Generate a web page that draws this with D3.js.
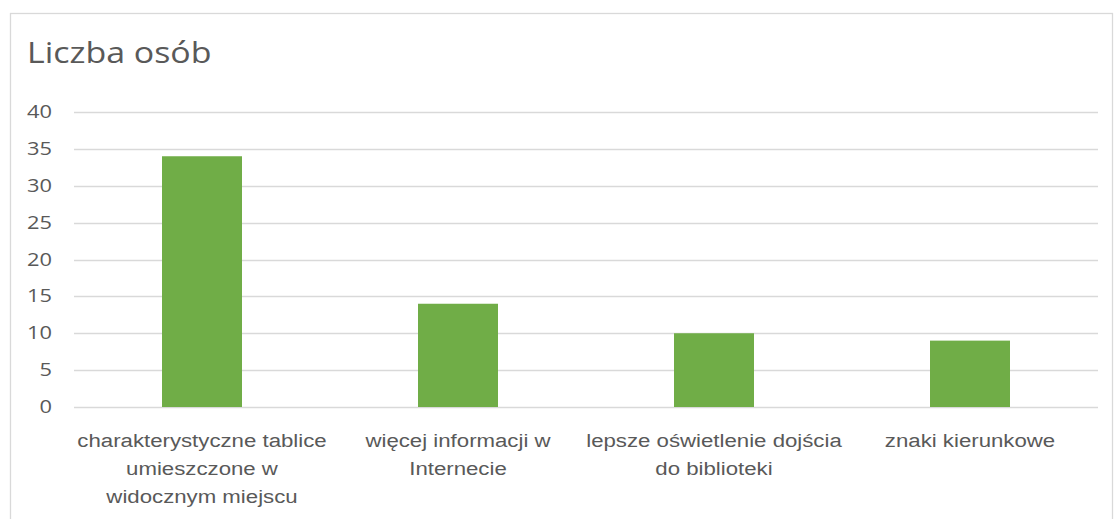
<!DOCTYPE html>
<meta charset="utf-8">
<head>
  <title>Liczba osób</title>
</head>
<style>
  body {
    margin: 0;
    background: #fff;
    font-family: "Open Sans", sans-serif;
  }
  svg {
    display: block;
  }
  .grid line {
    stroke: #d9d9d9;
    stroke-width: 1.3px;
  }
  .tick text {
    fill: #595959;
  }
</style>
<body>
  <svg width="1114" height="519"></svg>

  <script src="https://cdn.jsdelivr.net/npm/d3@7"></script>
  <script>
    // data
    var categories = [
      "charakterystyczne tablice\numieszczone w\nwidocznym miejscu",
      "więcej informacji w\nInternecie",
      "lepsze oświetlenie dojścia\ndo biblioteki",
      "znaki kierunkowe"
    ];
    var values = [34, 14, 10, 9];
    var yTicks = [0, 5, 10, 15, 20, 25, 30, 35, 40];
    var title = "Liczba osób";

    // the original text is a little wider than Open Sans, so stretch it a bit
    var stretch = 1.17;

    var svg = d3.select("svg");

    // outer chart frame
    svg.append("rect")
      .attr("x", 10.5)
      .attr("y", 13.5)
      .attr("width", 1102)
      .attr("height", 520)
      .attr("fill", "none")
      .attr("stroke", "#d9d9d9")
      .attr("stroke-width", 1.3);

    svg.append("text")
      .attr("transform", "translate(27,63) scale(" + stretch + ",1)")
      .attr("fill", "#595959")
      .style("font-size", "29px")
      .text(title);

    var margin = {left: 74, right: 1098, top: 112, bottom: 407};

    var x = d3.scaleBand()
      .domain(categories)
      .range([margin.left, margin.right])
      .paddingInner(0.6875)
      .paddingOuter(0.34375);

    var y = d3.scaleLinear()
      .domain([0, 40])
      .range([margin.bottom, margin.top]);

    // horizontal gridlines
    svg.append("g")
      .attr("class", "grid")
      .selectAll("line")
      .data(yTicks)
      .enter().append("line")
        .attr("x1", margin.left)
        .attr("x2", margin.right)
        .attr("y1", function(d) { return Math.round(y(d)) + 0.5; })
        .attr("y2", function(d) { return Math.round(y(d)) + 0.5; });

    // y axis labels
    var yAxis = svg.append("g")
      .attr("transform", "translate(" + (margin.left - 22) + ",0)")
      .call(d3.axisLeft(y).tickValues(yTicks).tickSize(0).tickPadding(0));
    yAxis.select(".domain").remove();
    yAxis.selectAll("text")
      .attr("transform", "scale(1.25,1)")
      .style("font-size", "17.5px")
      .style("font-family", "Open Sans, sans-serif");

    // bars
    svg.append("g")
      .selectAll("rect")
      .data(values)
      .enter().append("rect")
        .attr("x", function(d, i) { return x(categories[i]); })
        .attr("width", x.bandwidth())
        .attr("y", function(d) { return y(d); })
        .attr("height", function(d) { return y(0) - y(d); })
        .attr("fill", "#70ad47");

    // x axis labels, wrapped as in the original
    var xAxis = svg.append("g")
      .attr("transform", "translate(0," + margin.bottom + ")")
      .call(d3.axisBottom(x).tickSize(0).tickFormat(""));
    xAxis.select(".domain").remove();

    xAxis.selectAll(".tick").each(function(d) {
      var t = d3.select(this).append("text")
        .attr("text-anchor", "middle")
        .attr("transform", "scale(" + stretch + ",1)")
        .attr("fill", "#595959")
        .style("font-size", "19px");
      d.split("\n").forEach(function(line, i) {
        t.append("tspan")
          .attr("x", 0)
          .attr("y", 40 + i * 28)
          .text(line);
      });
    });
  </script>
</body>
</html>
